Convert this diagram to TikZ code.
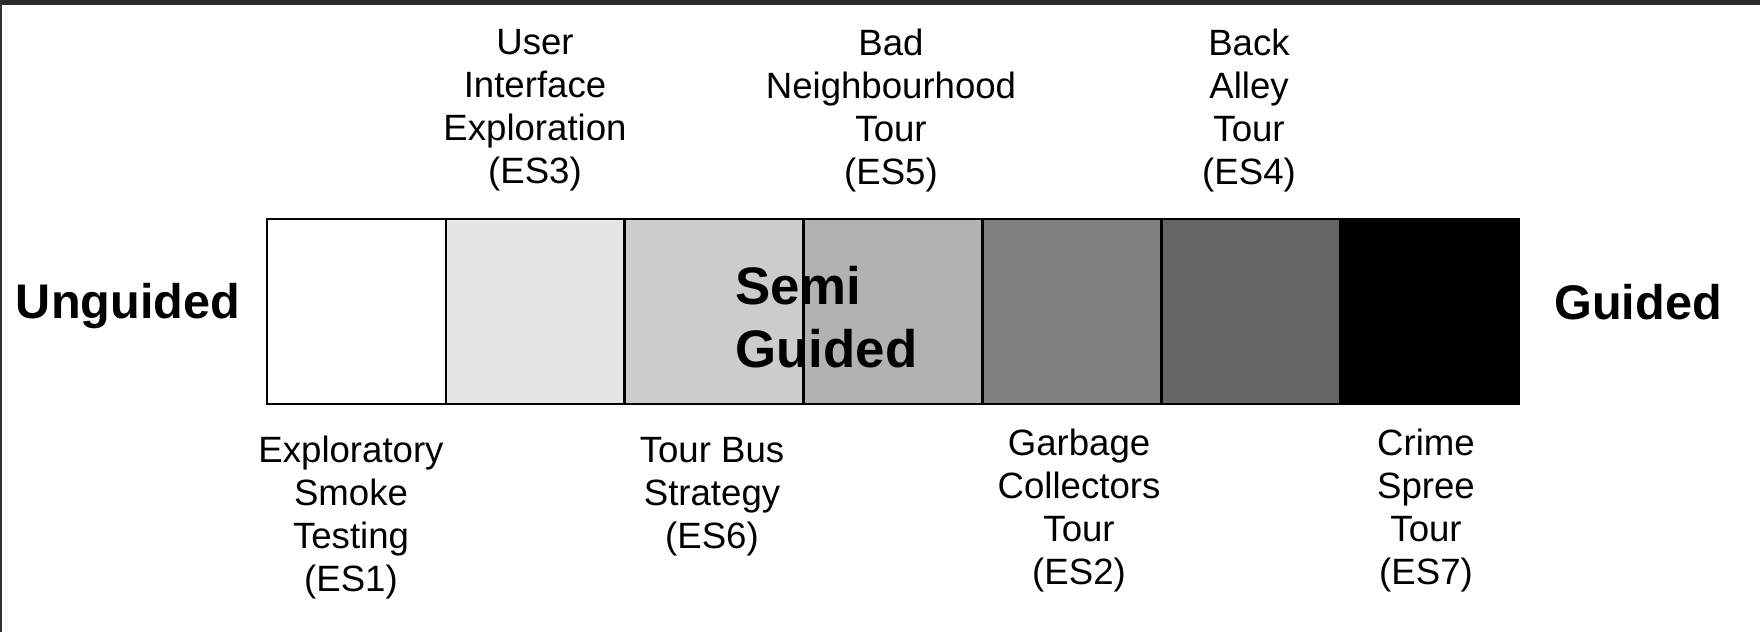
\documentclass[tikz,border=0pt]{standalone}
\usepackage{fontspec}
\setmainfont{Liberation Sans}
\begin{document}
\begin{tikzpicture}[x=0.5pt,y=-0.5pt,
  seg/.style={draw=black,line width=1.3pt},
  lbl/.style={align=center,inner sep=0pt,font=\fontsize{18.3}{21.5}\selectfont},
  endlbl/.style={inner sep=0pt,font=\fontsize{24.3}{30}\selectfont\bfseries},
  midlbl/.style={align=left,inner sep=0pt,font=\fontsize{26.4}{31.5}\selectfont\bfseries}]
% page and frame edges
\useasboundingbox (0,0) rectangle (1760,632);
\fill[white] (0,0) rectangle (1760,632);
\fill[black!83] (0,0) rectangle (1760,5);
\fill[black!80] (0,0) rectangle (2,632);
% the graded bar, light to dark
\foreach \i/\c in {0/white,1/black!10,2/black!20,3/black!30,4/black!50,5/black!60,6/black}{
  \path[fill=\c] ({267+\i*178.86},219) rectangle ({267+(\i+1)*178.86},404);
}
\foreach \i in {1,...,6}{
  \draw[line width=1.3pt] ({267+\i*178.86},219) -- ({267+\i*178.86},404);
}
\draw[seg] (267,219) rectangle (1519,404);
% end and middle captions
\node[endlbl] (ung) at (128,306.5) {Unguided};
\node[endlbl] (gui) at (1638,302) {Guided};
\node[midlbl,anchor=west] (semi) at (735,317) {Semi\\Guided};
% strategies above the bar
\node[lbl] (es3) at (535,110.5) {User\\Interface\\Exploration\\(ES3)};
\node[lbl] (es5) at (891,110.5) {Bad\\Neighbourhood\\Tour\\(ES5)};
\node[lbl] (es4) at (1249,110.5) {Back\\Alley\\Tour\\(ES4)};
% strategies below the bar
\node[lbl] (es1) at (351,517.5) {Exploratory\\Smoke\\Testing\\(ES1)};
\node[lbl] (es6) at (712,496.5) {Tour Bus\\Strategy\\(ES6)};
\node[lbl] (es2) at (1079,510.5) {Garbage\\Collectors\\Tour\\(ES2)};
\node[lbl] (es7) at (1426,510.5) {Crime\\Spree\\Tour\\(ES7)};
\end{tikzpicture}
\end{document}
